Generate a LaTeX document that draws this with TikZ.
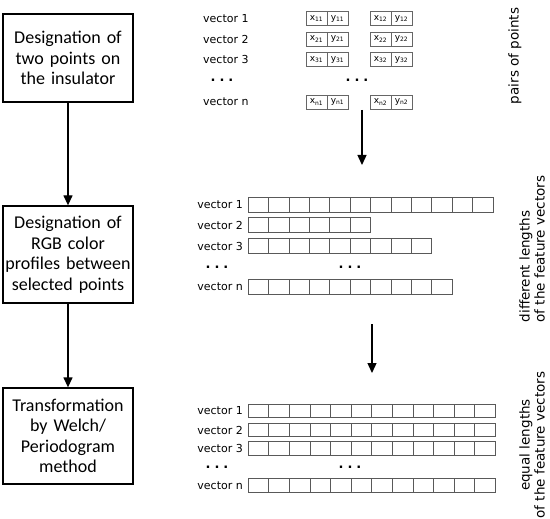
\documentclass[tikz,border=0pt]{standalone}
\usepackage{fontspec}
\setmainfont{DejaVu Sans}
\newfontfamily\boxfont{Carlito}
\usetikzlibrary{arrows.meta}

\tikzset{
  stepbox/.style={draw, line width=1.3pt, align=center, inner sep=0pt,
    minimum width=130pt, text width=128pt,
    font=\boxfont\fontsize{18}{20.5}\selectfont},
  flow/.style={line width=1.3pt, -{Triangle[length=10pt,width=9pt]}},
  vlbl/.style={font=\fontsize{11}{13}\selectfont, inner sep=0pt},
  pcell/.style={draw=black!60, line width=0.7pt, minimum width=21pt,
    minimum height=14pt, inner sep=0pt, font=\fontsize{9}{10}\selectfont},
  cell/.style={draw=black!65, line width=0.6pt},
  side/.style={rotate=90, font=\fontsize{13.5}{15}\selectfont, inner sep=0pt},
  dotrow/.style={font=\bfseries\fontsize{13}{14}\selectfont, inner sep=0pt}
}

\begin{document}
\begin{tikzpicture}[x=1pt,y=-1pt]
\useasboundingbox (0,0) rectangle (550,519);

% steps on the left
\node[stepbox, minimum height=88pt] (s1) at (68,58) {Designation of\\two points on\\the insulator};
\node[stepbox, minimum height=97pt] (s2) at (68,254.5) {Designation of\\RGB color\\profiles between\\selected points};
\node[stepbox, minimum height=96pt] (s3) at (68,436) {Transformation\\by Welch/\\Periodogram\\method};
\draw[flow] (s1) -- (s2);
\draw[flow] (s2) -- (s3);

% pairs of points
\foreach \r/\y/\k in {1/18.5/1, 2/39/2, 3/59.5/3, 4/102/n} {
  \node[vlbl, anchor=west] (pv\r) at (203,\y) {vector \k};
  \node[pcell] (pa\r) at (316.5,\y) {x\textsubscript{\k1}};
  \node[pcell] (pb\r) at (337.5,\y) {y\textsubscript{\k1}};
  \node[pcell] (pc\r) at (380.5,\y) {x\textsubscript{\k2}};
  \node[pcell] (pd\r) at (401.5,\y) {y\textsubscript{\k2}};
}
\node[dotrow] (pdl) at (222,80) {.\hspace{4pt}.\hspace{4pt}.};
\node[dotrow] (pdm) at (357,80) {.\hspace{4pt}.\hspace{4pt}.};
\node[side] (lp) at (515,56) {pairs of points};

\coordinate (a1s) at (362,110);
\coordinate (a1e) at (362,165);
\draw[flow] (a1s) -- (a1e);

% different lengths
\foreach \r/\y/\n/\k in {1/205/12/1, 2/225/6/2, 3/246/9/3, 4/287/10/n} {
  \node[vlbl, anchor=east] (dv\r) at (243,\y) {vector \k};
  \foreach \i in {1,...,\n}
    \draw[cell] ({248+(\i-1)*20.4},{\y-7.25}) rectangle ++(20.4,14.5);
}
\node[dotrow] (ddl) at (217,267) {.\hspace{4pt}.\hspace{4pt}.};
\node[dotrow] (ddm) at (350,267) {.\hspace{4pt}.\hspace{4pt}.};
\node[side, align=left] (ld) at (532,249) {different lengths\\of the feature vectors};

\coordinate (a2s) at (372,324);
\coordinate (a2e) at (372,373);
\draw[flow] (a2s) -- (a2e);

% equal lengths
\foreach \r/\y/\k in {1/411/1, 2/430/2, 3/448.5/3, 4/485.5/n} {
  \node[vlbl, anchor=east] (ev\r) at (243,\y) {vector \k};
  \foreach \i in {1,...,12}
    \draw[cell] ({248+(\i-1)*20.6},{\y-6.75}) rectangle ++(20.6,13.5);
}
\node[dotrow] (edl) at (217,467) {.\hspace{4pt}.\hspace{4pt}.};
\node[dotrow] (edm) at (350,467) {.\hspace{4pt}.\hspace{4pt}.};
\node[side, align=center] (le) at (532,445) {equal lengths\\of the feature vectors};
\end{tikzpicture}
\end{document}
